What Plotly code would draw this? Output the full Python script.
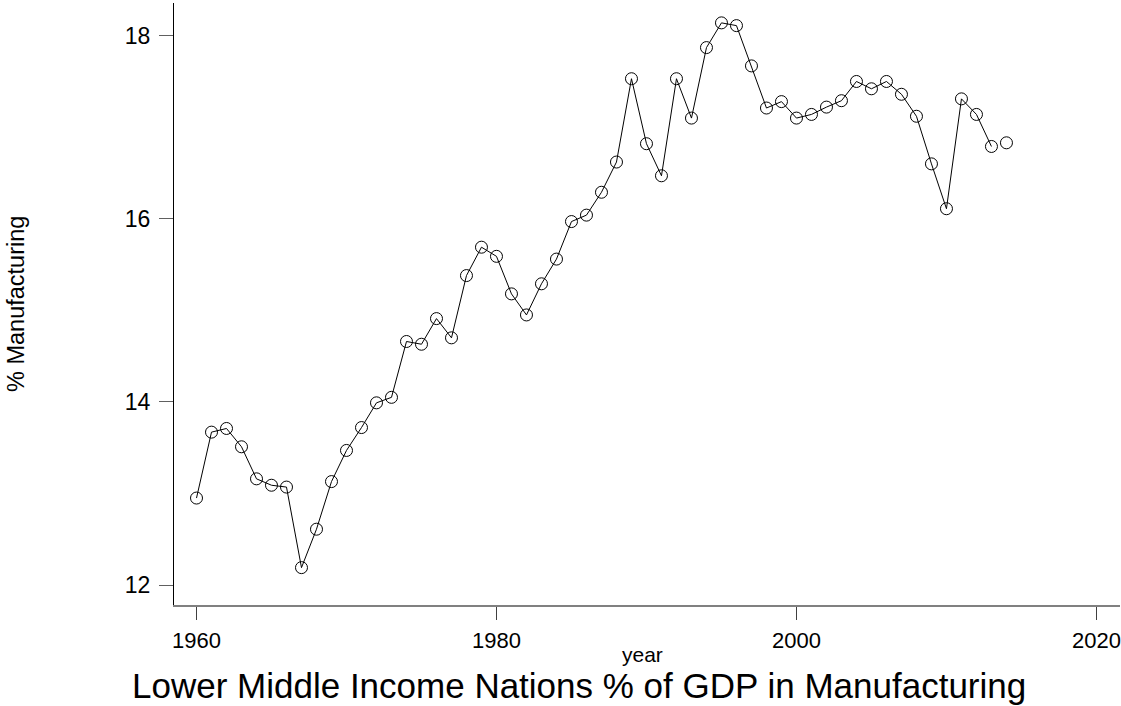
import plotly.graph_objects as go

years = list(range(1960, 2015))
manufacturing_pct = [
    12.95, 13.67, 13.71, 13.51, 13.16, 13.09, 13.07, 12.19, 12.61, 13.13,
    13.47, 13.72, 13.99, 14.05, 14.66, 14.63, 14.91, 14.70, 15.38, 15.69,
    15.59, 15.18, 14.95, 15.29, 15.56, 15.97, 16.04, 16.29, 16.62, 17.53,
    16.82, 16.47, 17.53, 17.10, 17.87, 18.14, 18.11, 17.67, 17.21, 17.28,
    17.10, 17.14, 17.22, 17.29, 17.50, 17.42, 17.50, 17.36, 17.12, 16.60,
    16.11, 17.31, 17.14, 16.79, 16.83,
]
x_ticks = [1960, 1980, 2000, 2020]
y_ticks = [12, 14, 16, 18]

FONT = "Liberation Sans, Arial, sans-serif"

fig = go.Figure()
# connecting line (the last observation is not connected in the original)
fig.add_trace(go.Scatter(
    x=years[:-1], y=manufacturing_pct[:-1], mode="lines",
    line=dict(color="black", width=1), hoverinfo="skip", showlegend=False,
))
fig.add_trace(go.Scatter(
    x=years, y=manufacturing_pct, mode="markers",
    marker=dict(symbol="circle-open", size=12, color="black",
                line=dict(color="black", width=1)),
    showlegend=False,
))

fig.update_layout(
    width=1121, height=706,
    margin=dict(l=174, r=1, t=3, b=101),
    paper_bgcolor="white", plot_bgcolor="white",
    font=dict(family=FONT, color="black"),
    xaxis=dict(
        range=[1958.5, 2021.57], tickvals=x_ticks, ticktext=[str(t) for t in x_ticks],
        showgrid=False, zeroline=False, showline=True, linecolor="#808080", linewidth=2,
        ticks="outside", ticklen=13, tickcolor="#404040", tickwidth=1,
        tickfont=dict(size=22, family=FONT, color="black"), ticklabelstandoff=2,
    ),
    yaxis=dict(
        range=[11.782, 18.357], tickvals=y_ticks, ticktext=[str(t) for t in y_ticks],
        showgrid=False, zeroline=False, showline=True, linecolor="black", linewidth=1,
        ticks="outside", ticklen=14, tickcolor="#606060", tickwidth=1,
        tickfont=dict(size=23, family=FONT, color="black"), ticklabelstandoff=4,
    ),
    annotations=[
        dict(text="% Manufacturing", xref="paper", yref="paper",
             x=(16 - 174) / 946, y=0.5, xanchor="center", yanchor="middle",
             textangle=-90, showarrow=False, font=dict(size=23.5, family=FONT)),
        dict(text="year", xref="paper", yref="paper",
             x=(642 - 174) / 946, y=(605 - 654) / 602, xanchor="center", yanchor="middle",
             showarrow=False, font=dict(size=21, family=FONT)),
        dict(text="Lower Middle Income Nations % of GDP in Manufacturing",
             xref="paper", yref="paper",
             x=(579 - 174) / 946, y=(605 - 685) / 602, xanchor="center", yanchor="middle",
             showarrow=False, font=dict(size=35, family=FONT)),
    ],
)

fig.write_html("out.html")
